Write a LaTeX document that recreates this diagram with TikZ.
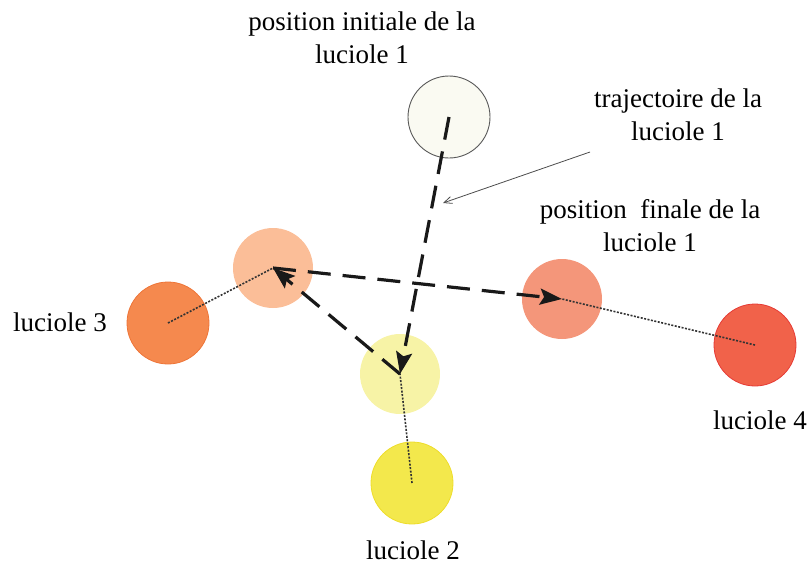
\documentclass[tikz,border=0pt]{standalone}
\usepackage{fontspec}
\setmainfont{Liberation Serif}
\usetikzlibrary{arrows.meta}
\definecolor{cinit}{HTML}{FAFAF2}
\definecolor{cthree}{HTML}{F5894E}
\definecolor{cthreeD}{HTML}{EE7538}
\definecolor{cthreeP}{HTML}{FBBE98}
\definecolor{cfourP}{HTML}{F4967A}
\definecolor{cfour}{HTML}{F1624A}
\definecolor{cfourD}{HTML}{E63B35}
\definecolor{ctwoP}{HTML}{F7F3A6}
\definecolor{ctwo}{HTML}{F3E84C}
\definecolor{ctwoD}{HTML}{EEDD2A}
\tikzset{
  fly/.style={circle, minimum size=82pt, inner sep=0pt},
  lbl/.style={font=\fontsize{27}{33}\selectfont, align=center, inner sep=0pt},
  link/.style={draw=black!80, line width=1.6pt, dash pattern=on 2pt off 1.5pt},
  traj/.style={draw=black!90, line width=3.2pt, dash pattern=on 23pt off 12pt,
    -{Stealth[length=22pt,width=16pt,inset=4pt,sep=0pt]}},
  pointer/.style={draw=black!70, line width=0.8pt, -{Straight Barb[length=8pt,width=7pt]}},
}
\begin{document}
\begin{tikzpicture}[x=1pt,y=-1pt]
\useasboundingbox (0,0) rectangle (811,568);
% fireflies
\node[fly, fill=cinit, draw=black!65, line width=0.9pt] (c1) at (449,117) {};
\node[fly, fill=cthree, draw=cthreeD, line width=0.8pt] (c3) at (168,323) {};
\node[fly, fill=cthreeP, minimum size=80pt] (c3p) at (273,268) {};
\node[fly, fill=cfourP, minimum size=80pt] (c4p) at (562,299) {};
\node[fly, fill=cfour, draw=cfourD, line width=0.8pt] (c4) at (755,345) {};
\node[fly, fill=ctwoP, minimum size=80pt] (c2p) at (400,374) {};
\node[fly, fill=ctwo, draw=ctwoD, line width=0.8pt] (c2) at (412,483) {};
% dotted links
\draw[link] (c3.center) -- (c3p.center);
\draw[link] (c2.center) -- (c2p.center);
\draw[link] (c4.center) -- (c4p.center);
% trajectories
\draw[traj] (c1.center) -- (c2p.center);
\draw[traj] (c2p.center) -- (c3p.center);
\draw[traj] (c3p.center) -- (c4p.center);
% labels
\node[lbl] (tinit) at (362,38) {position initiale de la\\luciole 1};
\node[lbl] (ttraj) at (678,115) {trajectoire de la\\luciole 1};
\node[lbl] (tfin) at (650,226) {position\ \ finale de la\\luciole 1};
\node[lbl] (t3) at (60,322) {luciole 3};
\node[lbl] (t4) at (760,420) {luciole 4};
\node[lbl] (t2) at (413,550) {luciole 2};
% pointer
\coordinate (ps) at (590,152);
\coordinate (pe) at (443,203);
\draw[pointer] (ps) -- (pe);
\end{tikzpicture}
\end{document}
